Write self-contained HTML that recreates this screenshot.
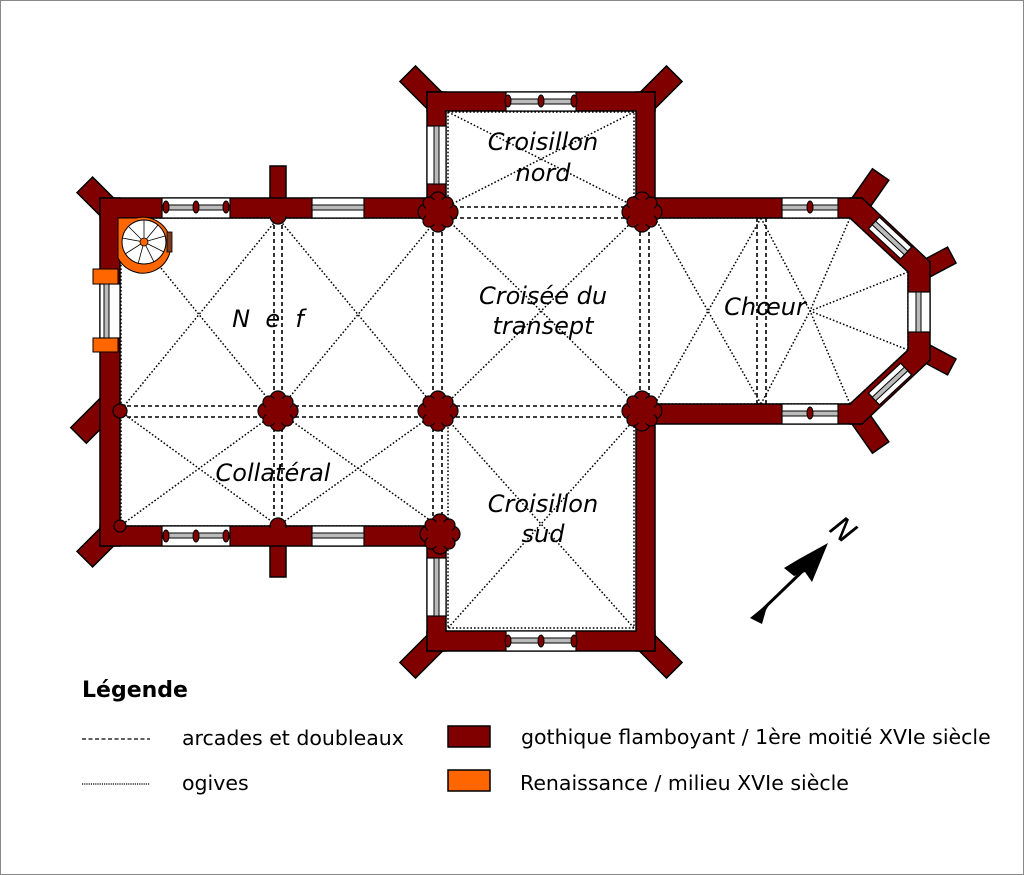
<!DOCTYPE html>
<html><head><meta charset="utf-8"><style>
html,body{margin:0;padding:0;background:#fff}
svg{display:block}
text{font-family:"DejaVu Sans","Liberation Sans",sans-serif}
</style></head><body>
<svg width="1024" height="875" viewBox="0 0 1024 875" xmlns="http://www.w3.org/2000/svg">
<rect x="0.5" y="0.5" width="1023" height="874" fill="#fff" stroke="#888"/>

<!-- vault lines -->
<g fill="none" stroke="#000" stroke-width="1.5" stroke-dasharray="1.6,2">
 <line x1="120" y1="218" x2="278" y2="411"/><line x1="278" y1="218" x2="120" y2="411"/>
 <line x1="278" y1="218" x2="438" y2="411"/><line x1="438" y1="218" x2="278" y2="411"/>
 <line x1="120" y1="411" x2="278" y2="526"/><line x1="278" y1="411" x2="120" y2="526"/>
 <line x1="278" y1="411" x2="438" y2="526"/><line x1="438" y1="411" x2="278" y2="526"/>
 <line x1="446" y1="218" x2="636" y2="404"/><line x1="636" y1="218" x2="446" y2="404"/>
 <line x1="448" y1="112" x2="634" y2="206"/><line x1="634" y1="112" x2="448" y2="206"/>
 <line x1="448" y1="420" x2="634" y2="628"/><line x1="634" y1="420" x2="448" y2="628"/>
 <line x1="655" y1="218" x2="761" y2="404"/><line x1="761" y1="218" x2="655" y2="404"/>
 <line x1="761" y1="218" x2="810" y2="311"/><line x1="761" y1="404" x2="810" y2="311"/>
 <line x1="850" y1="218" x2="810" y2="311"/><line x1="850" y1="404" x2="810" y2="311"/>
 <line x1="908" y1="272" x2="810" y2="311"/><line x1="908" y1="350" x2="810" y2="311"/>
 <polyline points="120,218 430,218"/><polyline points="120,526 430,526"/>
 <polyline points="121,218 121,526"/>
 <polyline points="448,112 634,112 634,206"/><polyline points="448,112 448,206"/>
 <polyline points="448,420 448,628 634,628 634,420"/>
 <polyline points="655,218 850,218 908,272 908,350 850,404 655,404"/>
</g>
<g fill="none" stroke="#000" stroke-width="1.6" stroke-dasharray="4,3">
 <line x1="120" y1="406" x2="640" y2="406"/><line x1="120" y1="417" x2="640" y2="417"/>
 <line x1="274" y1="218" x2="274" y2="526"/><line x1="282" y1="218" x2="282" y2="526"/>
 <line x1="433" y1="218" x2="433" y2="526"/><line x1="442" y1="218" x2="442" y2="526"/>
 <line x1="640" y1="218" x2="640" y2="404"/><line x1="649" y1="218" x2="649" y2="404"/>
 <line x1="446" y1="207" x2="636" y2="207"/><line x1="446" y1="218" x2="636" y2="218"/>
 <line x1="757" y1="218" x2="757" y2="404"/><line x1="766" y1="218" x2="766" y2="404"/>
</g>

<!-- walls -->
<g fill="#800000" stroke="#000" stroke-width="1.5">
 <rect x="-11" y="-30" width="22" height="40" transform="translate(106,206) rotate(-45)"/>
 <rect x="-11" y="-10" width="22" height="40" transform="translate(106,538) rotate(45)"/>
 <rect x="-11" y="-8" width="22" height="44" transform="translate(104,410) rotate(45)"/>
 <rect x="-11" y="-40" width="22" height="50" transform="translate(436,102) rotate(-45)"/>
 <rect x="-11" y="-40" width="22" height="50" transform="translate(646,102) rotate(45)"/>
 <rect x="-11" y="-10" width="22" height="50" transform="translate(436,642) rotate(45)"/>
 <rect x="-11" y="-10" width="22" height="50" transform="translate(646,642) rotate(-45)"/>
 <rect x="-10" y="-36" width="20" height="44" transform="translate(860,204) rotate(35)"/>
 <rect x="-10" y="-8" width="20" height="44" transform="translate(860,418) rotate(-35)"/>
 <rect x="-9" y="-4" width="18" height="40" transform="translate(920,272) rotate(-118)"/>
 <rect x="-9" y="-4" width="18" height="40" transform="translate(920,350) rotate(-62)"/>
 <rect x="270" y="166" width="16" height="34"/>
 <rect x="270" y="544" width="16" height="33"/>
 <rect x="100" y="198" width="346" height="20"/>
 <rect x="100" y="526" width="346" height="20"/>
 <rect x="100" y="198" width="20" height="348"/>
 <rect x="427" y="92" width="19" height="126"/>
 <rect x="636" y="92" width="19" height="126"/>
 <rect x="427" y="92" width="228" height="19"/>
 <rect x="427" y="526" width="19" height="125"/>
 <rect x="636" y="404" width="19" height="247"/>
 <rect x="427" y="631" width="228" height="20"/>
 <rect x="636" y="198" width="226" height="20"/>
 <rect x="636" y="404" width="226" height="20"/>
 <path d="M850,198 L862,198 L930,262 L930,360 L862,424 L850,424 L850,404 L908,350 L908,272 L850,218 Z"/>
</g>
<g fill="#800000">
 <rect x="101" y="199" width="344" height="18"/><rect x="101" y="527" width="344" height="18"/>
 <rect x="101" y="199" width="18" height="346"/>
 <rect x="428" y="93" width="17" height="124"/><rect x="637" y="93" width="17" height="124"/>
 <rect x="428" y="93" width="226" height="17"/>
 <rect x="428" y="527" width="17" height="123"/><rect x="637" y="405" width="17" height="245"/>
 <rect x="428" y="632" width="226" height="18"/>
 <rect x="637" y="199" width="224" height="18"/><rect x="637" y="405" width="224" height="18"/>
</g>

<!-- windows -->
<g fill="#fff" stroke="#000" stroke-width="1.2">
 <rect x="162" y="198" width="68" height="20"/><rect x="162" y="526" width="68" height="20"/>
 <rect x="312" y="198" width="52" height="20"/><rect x="312" y="526" width="52" height="20"/>
 <rect x="506" y="92" width="70" height="19"/><rect x="506" y="631" width="70" height="20"/>
 <rect x="427" y="126" width="19" height="58"/><rect x="427" y="558" width="19" height="58"/>
 <rect x="782" y="198" width="56" height="20"/><rect x="782" y="404" width="56" height="20"/>
 <rect x="908" y="292" width="22" height="40"/>
 <rect x="100" y="284" width="20" height="54"/>
 <rect x="-22" y="-8" width="44" height="16" transform="translate(890,238) rotate(43)"/>
 <rect x="-22" y="-8" width="44" height="16" transform="translate(890,384) rotate(-43)"/>
</g>
<g stroke="#000" stroke-width="1" fill="#bbb">
 <rect x="162" y="205" width="68" height="5"/><rect x="162" y="533" width="68" height="5"/>
 <rect x="312" y="205" width="52" height="5"/><rect x="312" y="533" width="52" height="5"/>
 <rect x="506" y="99" width="70" height="5"/><rect x="506" y="638" width="70" height="5"/>
 <rect x="434" y="126" width="5" height="58"/><rect x="434" y="558" width="5" height="58"/>
 <rect x="782" y="205" width="56" height="5"/><rect x="782" y="411" width="56" height="5"/>
 <rect x="916" y="292" width="5" height="40"/>
 <rect x="104" y="284" width="5" height="54"/>
 <rect x="-22" y="-2.5" width="44" height="5" transform="translate(890,238) rotate(43)"/>
 <rect x="-22" y="-2.5" width="44" height="5" transform="translate(890,384) rotate(-43)"/>
</g>
<g fill="#800000" stroke="#000" stroke-width="1">
 <ellipse cx="196" cy="207" rx="3" ry="6"/><ellipse cx="196" cy="536" rx="3" ry="6"/>
 <ellipse cx="541" cy="101" rx="3" ry="6"/><ellipse cx="541" cy="641" rx="3" ry="6"/>
 <ellipse cx="810" cy="207" rx="3" ry="6"/><ellipse cx="810" cy="413" rx="3" ry="6"/>
 <ellipse cx="508" cy="101" rx="3" ry="6"/><ellipse cx="574" cy="101" rx="3" ry="6"/>
 <ellipse cx="508" cy="641" rx="3" ry="6"/><ellipse cx="574" cy="641" rx="3" ry="6"/>
 <ellipse cx="166" cy="207" rx="3" ry="6"/><ellipse cx="226" cy="207" rx="3" ry="6"/>
 <ellipse cx="166" cy="536" rx="3" ry="6"/><ellipse cx="226" cy="536" rx="3" ry="6"/>
</g>
<!-- orange renaissance -->
<g fill="#ff6600" stroke="#000" stroke-width="1">
 <rect x="93" y="269" width="25" height="15"/><rect x="93" y="338" width="25" height="14"/>
 <path d="M118,218 L136,218 A28,28 0 1 1 118,258 Z"/>
</g>
<circle cx="144" cy="242" r="22" fill="#fff" stroke="#000" stroke-width="1"/>
<g stroke="#000" stroke-width="0.8">
 <line x1="144" y1="242" x2="144" y2="220"/><line x1="144" y1="242" x2="158" y2="225"/>
 <line x1="144" y1="242" x2="165" y2="236"/><line x1="144" y1="242" x2="164" y2="252"/>
 <line x1="144" y1="242" x2="154" y2="262"/><line x1="144" y1="242" x2="138" y2="264"/>
 <line x1="144" y1="242" x2="125" y2="254"/><line x1="144" y1="242" x2="122" y2="238"/>
 <line x1="144" y1="242" x2="128" y2="226"/>
</g>
<circle cx="144" cy="242" r="4" fill="#ff6600" stroke="#000" stroke-width="0.8"/>
<rect x="167" y="232" width="5" height="20" fill="#7a3b1f" stroke="#000" stroke-width="0.8"/>

<!-- piers -->
<defs>
 <g id="p">
  <circle cx="0" cy="-12" r="8"/><circle cx="0" cy="12" r="8"/>
  <circle cx="-12" cy="0" r="8"/><circle cx="12" cy="0" r="8"/>
  <circle cx="-9" cy="-9" r="6"/><circle cx="9" cy="-9" r="6"/>
  <circle cx="-9" cy="9" r="6"/><circle cx="9" cy="9" r="6"/>
  <rect x="-12" y="-12" width="24" height="24" stroke="none"/>
 </g>
</defs>
<g fill="#800000" stroke="#000" stroke-width="1.2">
 <use href="#p" x="278" y="411"/><use href="#p" x="438" y="411"/>
 <use href="#p" x="438" y="212"/><use href="#p" x="642" y="212"/>
 <use href="#p" x="642" y="411"/><use href="#p" x="440" y="534"/>
 <circle cx="278" cy="216" r="8"/><circle cx="278" cy="526" r="8"/>
 <circle cx="120" cy="411" r="7"/><circle cx="120" cy="526" r="6"/>
</g>
<g fill="#800000"><rect x="268" y="199" width="20" height="17"/><rect x="268" y="528" width="20" height="17"/></g>

<!-- labels -->
<g font-style="italic" font-size="24" text-anchor="middle" fill="#000">
 <text x="268" y="327" xml:space="preserve">N  e  f</text>
 <text x="543" y="150">Croisillon</text><text x="543" y="181">nord</text>
 <text x="543" y="304">Croisée du</text><text x="543" y="334">transept</text>
 <text x="765" y="315">Chœur</text>
 <text x="273" y="481">Collatéral</text>
 <text x="543" y="512">Croisillon</text><text x="543" y="542">sud</text>
</g>

<!-- compass -->
<g fill="#000" stroke="#000">
 <line x1="758" y1="614" x2="812" y2="562" stroke-width="3"/>
 <polygon points="828,543 812,582 805,572 794,576 784,568 799,559" stroke="none"/>
 <polygon points="750,618 772,600 766,610 762,624" stroke="none"/>
</g>
<text x="843" y="540" font-family="Liberation Serif,serif" font-style="italic" font-size="30" text-anchor="middle" transform="rotate(40 843 530)">N</text>

<!-- legend -->
<text x="82" y="697" font-size="22" font-weight="bold">Légende</text>
<line x1="82" y1="739" x2="150" y2="739" stroke="#000" stroke-width="1.3" stroke-dasharray="4,2.5"/>
<line x1="82" y1="784" x2="150" y2="784" stroke="#000" stroke-width="1.3" stroke-dasharray="1.2,1"/>
<text x="182" y="745" font-size="20.5">arcades et doubleaux</text>
<text x="182" y="790" font-size="20.5">ogives</text>
<rect x="448" y="726" width="42" height="21" fill="#800000" stroke="#000" stroke-width="1.5"/>
<rect x="448" y="770" width="42" height="21" fill="#ff6600" stroke="#000" stroke-width="1.5"/>
<text x="521" y="744" font-size="20.5">gothique flamboyant / 1ère moitié XVIe siècle</text>
<text x="520" y="790" font-size="20.5">Renaissance / milieu XVIe siècle</text>
</svg>
</body></html>
